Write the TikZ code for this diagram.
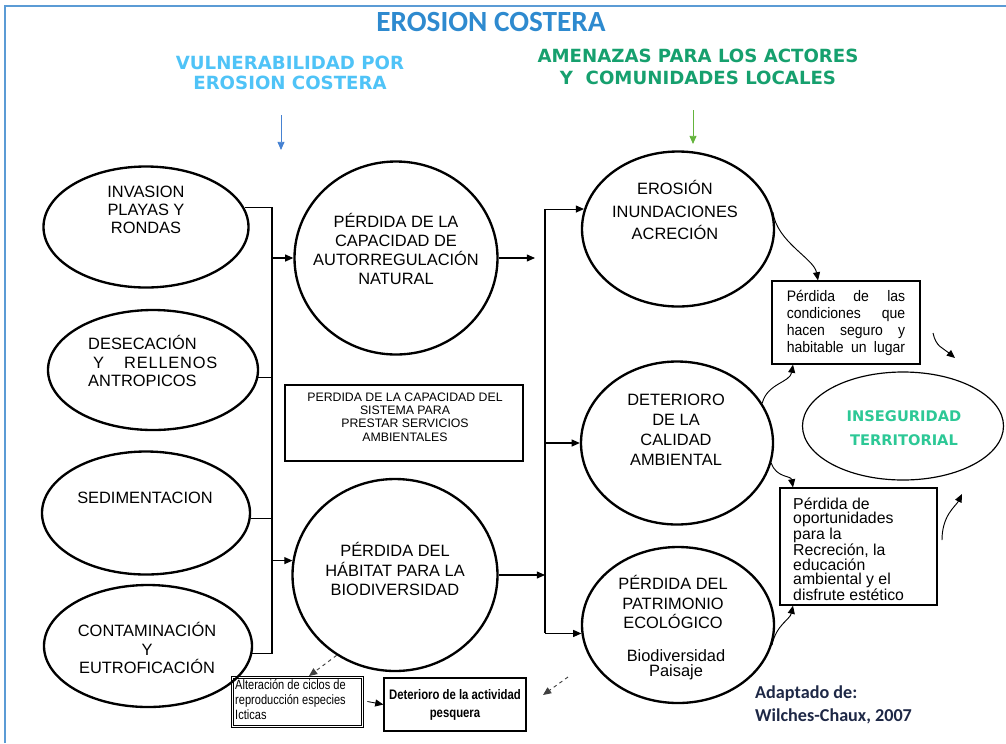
\documentclass[tikz,border=0pt]{standalone}
\usepackage{fontspec}
\setmainfont{Liberation Sans}
\newfontfamily\titlefont{Carlito}
\newfontfamily\headfont{DejaVu Sans}
\newfontfamily\narrowfont[FakeStretch=0.82]{Liberation Sans}
\newfontfamily\semifont[FakeStretch=0.92]{Liberation Sans}
\usetikzlibrary{positioning,arrows.meta,shapes.geometric}
\newcommand{\fs}[2]{\fontsize{#1}{#2}\selectfont}
\newcommand{\jline}[1]{\makebox[3.55cm][s]{#1}}
\definecolor{titleblue}{RGB}{46,138,207}
\definecolor{subblue}{RGB}{79,195,247}
\definecolor{subgreen}{RGB}{22,160,110}
\definecolor{insegreen}{RGB}{45,200,150}
\definecolor{arrowblue}{RGB}{70,130,210}
\definecolor{arrowgreen}{RGB}{100,180,60}
\definecolor{framecol}{RGB}{91,155,213}
\definecolor{navy}{RGB}{30,40,70}

\begin{document}
\begin{tikzpicture}[
    x=0.03cm, y=-0.03cm,
    ell/.style={draw, ellipse, line width=2pt, inner sep=0pt},
    txt/.style={align=center, inner sep=0pt, font={\fs{14pt}{15.5pt}}},
    box/.style={draw, line width=1pt, inner sep=0pt},
    arrow/.style={-{Triangle[length=7pt,width=6pt]}, line width=0.9pt},
    link/.style={line width=0.9pt},
    wave/.style={-{Triangle[length=7pt,width=6pt]}, line width=0.8pt},
    dasharrow/.style={-{Triangle[length=7pt,width=6pt]}, dashed, line width=0.8pt, black!75}
]
    \useasboundingbox (0,0) rectangle (1006,743);
    \draw[framecol, line width=1.5pt] (5,743) -- (5,6) -- (1006,6);

    % titles
    \node[font={\titlefont\bfseries\fs{25pt}{28pt}}, text=titleblue] (title) at (491,22) {EROSION COSTERA};
    \node[font={\headfont\bfseries\fs{15.5pt}{17pt}}, text=subblue, align=center] (vul) at (290,73) {VULNERABILIDAD POR\\EROSION COSTERA};
    \node[font={\headfont\bfseries\fs{15.5pt}{18.7pt}}, text=subgreen, align=center] (ame) at (698,67) {AMENAZAS PARA LOS ACTORES\\Y\ \ COMUNIDADES LOCALES};
    \coordinate (vula) at (281,115);
    \coordinate (vulb) at (281,150);
    \coordinate (amea) at (693,110);
    \coordinate (ameb) at (693,144);
    \draw[arrow, arrowblue, line width=0.8pt] (vula) -- (vulb);
    \draw[arrow, arrowgreen, line width=0.8pt] (amea) -- (ameb);

    % causes
    \node[ell, minimum width=6.15cm, minimum height=3.63cm] (inv) at (146,227) {};
    \node[txt] (invt) at (146,210) {INVASION\\PLAYAS Y\\RONDAS};
    \node[ell, minimum width=6.3cm, minimum height=3.6cm] (des) at (153,370) {};
    \node[txt, align=left, anchor=west] (dest) at (88,361) {DESECACIÓN\\\hspace*{0.15cm}Y\hspace{0.6cm}{\addfontfeature{LetterSpace=5}RELLENOS}\\ANTROPICOS};
    \node[ell, minimum width=6.24cm, minimum height=3.69cm] (sed) at (146,513) {};
    \node[txt] (sedt) at (145,498) {SEDIMENTACION};
    \node[ell, minimum width=6.24cm, minimum height=3.66cm] (cont) at (148,646) {};
    \node[txt] (contt) at (147,648) {CONTAMINACIÓN\\Y\\EUTROFICACIÓN};

    % vulnerability
    \node[ell, minimum width=6.09cm, minimum height=5.79cm] (aut) at (396,258) {};
    \node[txt, font={\fs{14pt}{16pt}}] (autt) at (396,249) {PÉRDIDA DE LA\\CAPACIDAD DE\\AUTORREGULACIÓN\\NATURAL};
    \node[box, minimum width=7.14cm, minimum height=2.28cm] (serv) at (404,423) {};
    \node[align=center, inner sep=0pt, font={\fs{10.5pt}{11.5pt}}] (servt) at (405,417) {PERDIDA DE LA CAPACIDAD DEL\\SISTEMA PARA\\PRESTAR SERVICIOS\\AMBIENTALES};
    \node[ell, minimum width=6.15cm, minimum height=5.76cm] (hab) at (395,575) {};
    \node[txt, font={\fs{14pt}{17pt}}] (habt) at (395,569) {PÉRDIDA DEL\\HÁBITAT PARA LA\\BIODIVERSIDAD};

    % threats
    \node[ell, minimum width=5.76cm, minimum height=4.65cm] (ero) at (678,229) {};
    \node[txt, font={\fs{14pt}{19.5pt}}] (erot) at (675,210) {EROSIÓN\\INUNDACIONES\\ACRECIÓN};
    \node[ell, minimum width=5.76cm, minimum height=4.89cm] (cal) at (677,443) {};
    \node[txt, font={\fs{14pt}{17pt}}] (calt) at (676,430) {DETERIORO\\DE LA\\CALIDAD\\AMBIENTAL};
    \node[ell, minimum width=5.76cm, minimum height=4.68cm] (pat) at (678,625) {};
    \node[txt, font={\fs{14pt}{17pt}}] (patt) at (673,602) {PÉRDIDA DEL\\PATRIMONIO\\ECOLÓGICO};
    \node[txt, font={\fs{14pt}{13pt}}] (pats) at (676,665) {Biodiversidad\\Paisaje};

    % consequences
    \node[box, minimum width=4.44cm, minimum height=2.49cm, align=left, font={\semifont\fs{13pt}{14.5pt}}] (cond) at (846,322.5) {\jline{Pérdida de las}\\\jline{condiciones que}\\\jline{hacen seguro y}\\\jline{habitable un lugar}};
    \node[ell, line width=1pt, minimum width=6.03cm, minimum height=3.24cm] (inseg) at (903,426) {};
    \node[font={\headfont\bfseries\fs{12.5pt}{21pt}}, text=insegreen, align=center, inner sep=0pt] (insegt) at (904,428) {INSEGURIDAD\\TERRITORIAL};
    \node[box, minimum width=4.71cm, minimum height=3.51cm] (recr) at (858.5,546.5) {};
    \node[anchor=north west, align=left, inner sep=0pt, font={\fs{13.5pt}{12pt}}] (recrt) at (793,498) {Pérdida de\\oportunidades\\para la\\Recreción, la\\educación\\ambiental y el\\disfrute estético};

    % fishing
    \node[box, line width=0.7pt, minimum width=3.96cm, minimum height=1.53cm] (alt) at (297,701.5) {};
    \draw[line width=0.6pt] ([shift={(2.5,-2.5)}]alt.south west) rectangle ([shift={(-2.5,2.5)}]alt.north east);
    \node[anchor=north west, align=left, inner sep=0pt, font={\narrowfont\fs{11.5pt}{13pt}}] (altt) at (235,679) {Alteración de ciclos de\\reproducción especies\\Icticas};
    \node[box, minimum width=4.26cm, minimum height=1.59cm, align=center, font={\narrowfont\bfseries\fs{11.8pt}{15.5pt}}] (pesca) at (455,704.5) {Deterioro de la actividad\\pesquera};

    \node[anchor=west, align=left, inner sep=0pt, font={\titlefont\bfseries\fs{15.5pt}{20pt}}, text=navy] (src) at (755,705) {Adaptado de:\\Wilches-Chaux, 2007};

    % left bus
    \coordinate (lbus) at (272,0);
    \draw[link] (inv.11) -- (inv.11 -| lbus) -- (cont.-4 -| lbus) -- (cont.-4);
    \draw[link] (des.-4) -- (des.-4 -| lbus);
    \draw[link] (sed.-3) -- (sed.-3 -| lbus);
    \draw[arrow] (aut.west -| lbus) -- (aut.west);
    \draw[arrow] (hab.172 -| lbus) -- (hab.172);

    % right bus
    \coordinate (rbus) at (545,0);
    \draw[arrow] (aut.east) -- ([xshift=-0.3cm]aut.east -| rbus);
    \draw[arrow] (hab.east) -- (hab.east -| rbus);
    \draw[link] (ero.168 -| rbus) -- (pat.185 -| rbus);
    \draw[arrow] (ero.168 -| rbus) -- (ero.168);
    \draw[arrow] (cal.west -| rbus) -- (cal.west);
    \draw[arrow] (pat.185 -| rbus) -- (pat.185);

    % curved links
    \draw[wave] (ero.10) .. controls +(4,30) and +(-4,-22) .. ([xshift=-0.84cm]cond.north);
    \draw[wave] (cal.25) .. controls +(5,-20) and +(-3,18) .. ([xshift=-1.59cm]cond.south);
    \draw[wave] (cal.-12) .. controls +(5,15) and +(-2,-12) .. ([xshift=-1.965cm]recr.north);
    \draw[wave] (pat.-12) .. controls +(4,-20) and +(-3,14) .. ([xshift=-1.965cm]recr.south);
    \coordinate (fa1) at (933,333);
    \coordinate (fa2) at (955,358);
    \coordinate (fb1) at (942,540);
    \coordinate (fb2) at (962,494);
    \draw[wave] (fa1) .. controls +(3,14) and +(-12,-10) .. (fa2);
    \draw[wave] (fb1) .. controls +(0,-25) and +(-6,12) .. (fb2);

    % dashed links
    \coordinate (altin) at (309,676);
    \coordinate (pd1) at (568,677);
    \coordinate (pd2) at (543,695);
    \draw[dasharrow] (hab.234) -- (altin);
    \draw[dasharrow] (pd1) -- (pd2);
    \draw[arrow, line width=0.7pt] ([xshift=0.12cm]alt.east) -- (pesca.west);
\end{tikzpicture}
\end{document}
